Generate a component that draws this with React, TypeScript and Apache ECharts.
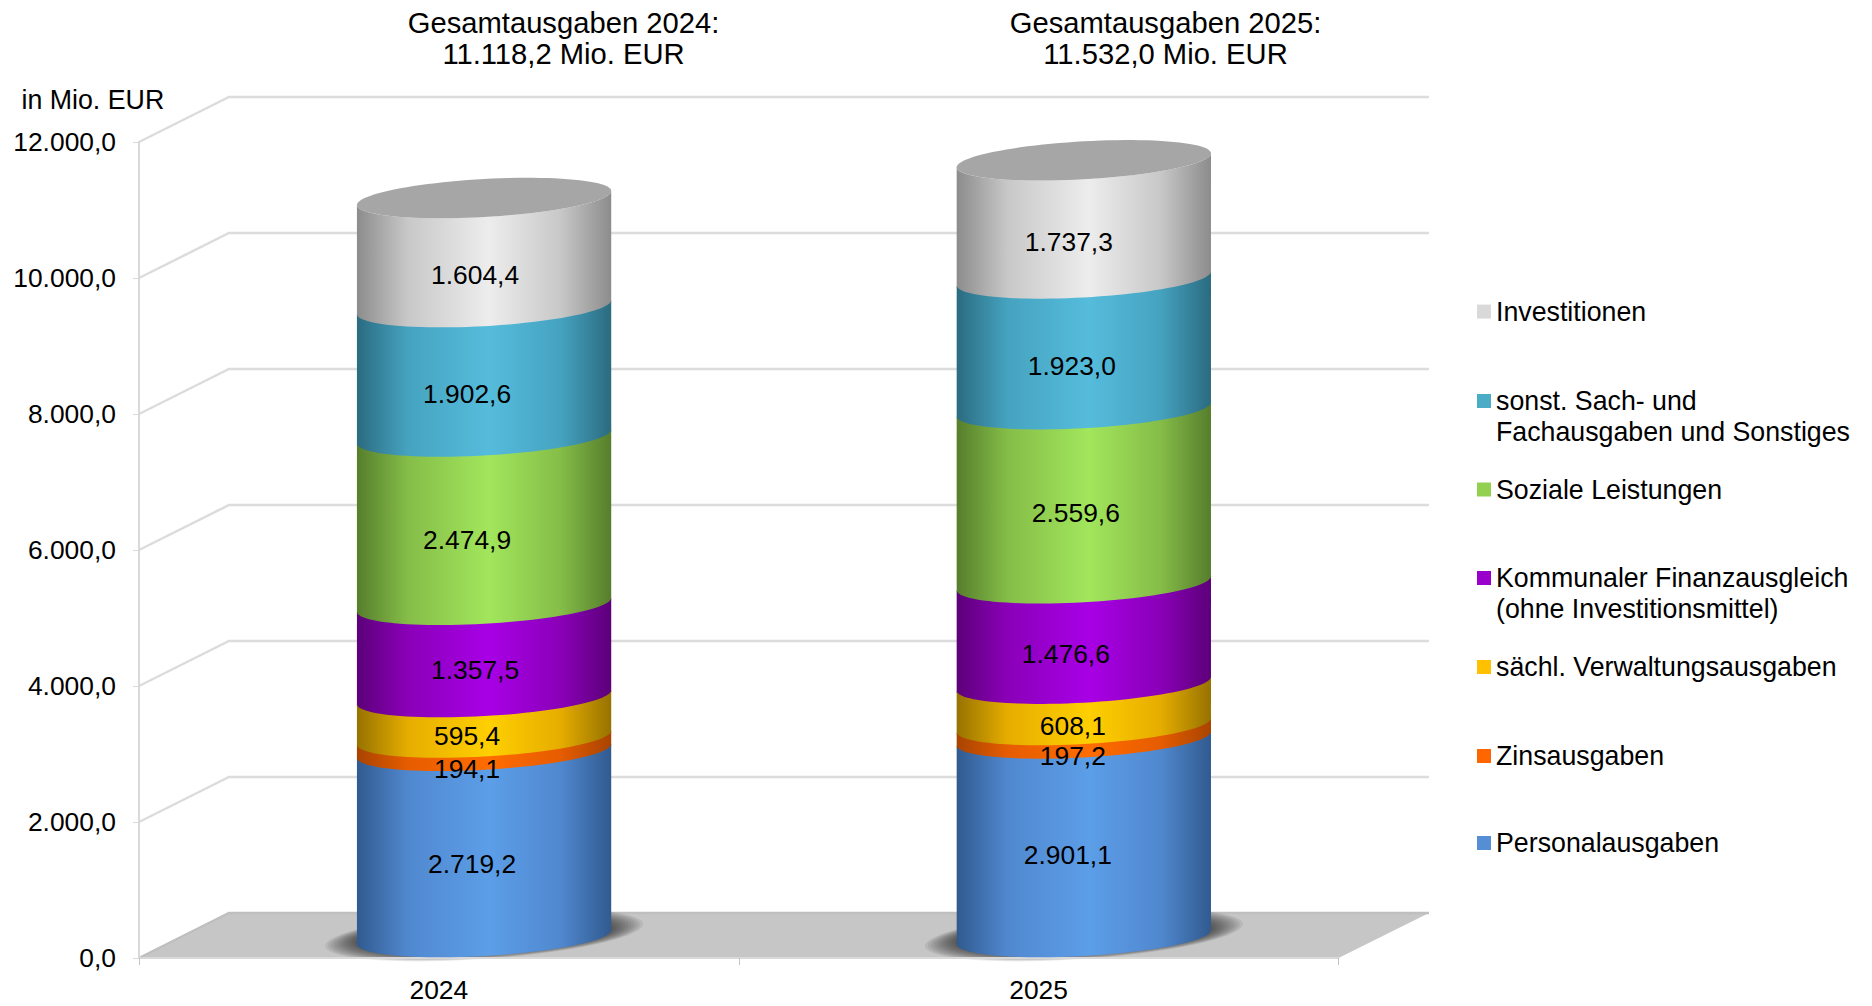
import React, { useEffect, useRef } from "react";
import * as echarts from "echarts";

const FONT = '"Liberation Sans", Arial, sans-serif';

const categories = ["2024", "2025"];
const yTicks = [0, 2000, 4000, 6000, 8000, 10000, 12000];

const personalausgaben = [2719.2, 2901.1];
const zinsausgaben = [194.1, 197.2];
const verwaltungsausgaben = [595.4, 608.1];
const finanzausgleich = [1357.5, 1476.6];
const sozialeLeistungen = [2474.9, 2559.6];
const sachausgaben = [1902.6, 1923.0];
const investitionen = [1604.4, 1737.3];

const titleLines = [
  "Gesamtausgaben 2024:\n11.118,2 Mio. EUR",
  "Gesamtausgaben 2025:\n11.532,0 Mio. EUR",
];
const unitLabel = "in Mio. EUR";

const names = [
  "Personalausgaben",
  "Zinsausgaben",
  "sächl. Verwaltungsausgaben",
  "Kommunaler Finanzausgleich\n(ohne Investitionsmittel)",
  "Soziale Leistungen",
  "sonst. Sach- und\nFachausgaben und Sonstiges",
  "Investitionen",
];
const values = [
  personalausgaben,
  zinsausgaben,
  verwaltungsausgaben,
  finanzausgleich,
  sozialeLeistungen,
  sachausgaben,
  investitionen,
];

// styling (dark edge, mid tone, highlight, legend swatch)
const shades = [
  ["#315a8f", "#5088cf", "#5c9ee8", "#558ed5"],
  ["#a84400", "#e65c00", "#ff6c00", "#ff6600"],
  ["#967200", "#e6ad00", "#ffcf00", "#ffc000"],
  ["#5c0079", "#8a00b8", "#a800e6", "#9900cc"],
  ["#567e2c", "#85bd48", "#a2e65c", "#92d050"],
  ["#2b6b80", "#45a3c0", "#56bcdc", "#4bacc6"],
  ["#8c8c8c", "#c8c8c8", "#ededed", "#d9d9d9"],
];
// small per-label nudges [dx from cylinder centre, dy], as placed in the source
const labelNudge = [
  [[-12, -2], [-17, 3], [-17, -4], [-9, -3], [-17, -3], [-17, 0], [-9, 0]],
  [[-16, -4], [-11, 2], [-11, -1], [-18, -2], [-8, -6], [-12, 0], [-15, 0]],
];

const DEPTH_X = 90;
const DEPTH_Y = 45;
const MID_X = 45.2;
const MID_Y = 22.3;
const BASE_Y = 21;
const TILT = 7;
const MINOR = 19;
const WIDTH_RATIO = 0.424;
const FS = 26.4;
const FS_WIDE = 26.75;
const FS_TITLE = 29.2;

const fmt = (v: number) =>
  v.toLocaleString("de-DE", { minimumFractionDigits: 1, maximumFractionDigits: 1 });

const curve = (cx: number, cy: number, a: number, from: number, to: number, n = 48) => {
  const pts: number[][] = [];
  for (let i = 0; i <= n; i++) {
    const t = from + ((to - from) * i) / n;
    pts.push([cx + a * Math.cos(t), cy + MINOR * Math.sin(t) - TILT * Math.cos(t)]);
  }
  return pts;
};

const bodyFill = (s: string[]) =>
  new echarts.graphic.LinearGradient(0, 0, 1, 0, [
    { offset: 0, color: s[0] },
    { offset: 0.2, color: s[1] },
    { offset: 0.52, color: s[2] },
    { offset: 0.8, color: s[1] },
    { offset: 1, color: s[0] },
  ]);

const renderBackdrop = (params: any, api: any) => {
  const cs = params.coordSys;
  const y = api.coord([0, api.value(0)])[1];
  const x0 = cs.x;
  const x1 = cs.x + cs.width;
  const children: any[] = [];
  if (api.value(0) === 0) {
    children.push({
      type: "polygon",
      shape: { points: [[x0, y], [x0 + DEPTH_X, y - DEPTH_Y], [x1 + DEPTH_X + 0.5, y - DEPTH_Y], [x1, y]] },
      style: { fill: "#c6c6c6" },
    });
  }
  children.push({
    type: "polyline",
    shape: { points: [[x0, y], [x0 + DEPTH_X, y - DEPTH_Y], [x1 + DEPTH_X + 0.5, y - DEPTH_Y]] },
    style: { stroke: api.value(0) === 0 ? "#bfbfbf" : "#dcdcdc", lineWidth: 2.5, fill: "none" },
  });
  return { type: "group", children };
};

const renderShadow = (params: any, api: any) => {
  const [cxFront, y0] = api.coord([api.value(0), 0]);
  const a = (api.size([1, 0])[0] * WIDTH_RATIO) / 2;
  const cx = cxFront + MID_X;
  const cy = y0 - BASE_Y - 2;
  const children: any[] = [];
  const layers = 11;
  for (let k = 0; k < layers; k++) {
    const f = k / (layers - 1);
    const rx = a + 32 - 30 * f;
    const ry = MINOR + 5 - 5 * f;
    const tilt = 11 - 4 * f;
    const pts: number[][] = [];
    for (let i = 0; i < 72; i++) {
      const t = (i / 72) * Math.PI * 2;
      pts.push([cx + rx * Math.cos(t), cy + ry * Math.sin(t) - tilt * Math.cos(t)]);
    }
    children.push({
      type: "polygon",
      shape: { points: pts },
      style: { fill: "#000", opacity: 0.065 },
    });
  }
  return { type: "group", children };
};

const makeRender = (si: number) => (params: any, api: any) => {
  const cat = api.value(0);
  const base = api.value(1);
  const top = api.value(2);
  const [cxFront, yBase] = api.coord([cat, base]);
  const yTop = api.coord([cat, top])[1];
  const a = (api.size([1, 0])[0] * WIDTH_RATIO) / 2;
  const cx = cxFront + MID_X;
  const cyTop = yTop - MID_Y;
  const cyBase = si === 0 ? yBase - BASE_Y : yBase - MID_Y + 1.5;
  const nudge = labelNudge[cat][si];
  const pts = curve(cx, cyTop, a, Math.PI, 0).concat(curve(cx, cyBase, a, 0, Math.PI));
  const children: any[] = [
    { type: "polygon", shape: { points: pts }, style: { fill: bodyFill(shades[si]) }, z2: 1 },
  ];
  if (si === names.length - 1) {
    const cap = curve(cx, cyTop, a, 0, Math.PI * 2, 96);
    children.push({ type: "polygon", shape: { points: cap }, style: { fill: "#a6a6a6" }, z2: 2 });
  }
  children.push({
    type: "text",
    x: cx + nudge[0],
    y: (yBase + yTop) / 2 + nudge[1],
    z2: 100,
    style: {
      text: fmt(top - base),
      align: "center",
      verticalAlign: "middle",
      font: `${FS}px ${FONT}`,
      fill: "#000",
    },
  });
  return { type: "group", children };
};

const legendRows = [843, 756, 667, 578, 489.5, 401, 311.6];

export default function App() {
  const ref = useRef<HTMLDivElement>(null);
  useEffect(() => {
    if (!ref.current) return;
    document.body.style.margin = "0";
    const chart = echarts.init(ref.current, undefined, { renderer: "svg" });
    const bodies: any[] = names.map((n, si) => {
      const data = categories.map((_, c) => {
        let base = 0;
        for (let k = 0; k < si; k++) base += values[k][c];
        return [c, +base.toFixed(1), +(base + values[si][c]).toFixed(1)];
      });
      return {
        type: "custom",
        name: n,
        z: 2,
        silent: true,
        encode: { x: 0, y: [1, 2] },
        data,
        renderItem: makeRender(si),
      };
    });
    const legendGraphics: any[] = [];
    names.forEach((n, i) => {
      legendGraphics.push({
        type: "rect",
        left: 1477,
        top: legendRows[i] - 7,
        shape: { width: 14, height: 14 },
        style: { fill: shades[i][3] },
      });
      legendGraphics.push({
        type: "text",
        left: 1496,
        top: legendRows[i] - 15.5,
        style: { text: n, font: `${FS_WIDE}px ${FONT}`, lineHeight: 31, fill: "#000" },
      });
    });
    legendGraphics.push({
      type: "text",
      left: 21.5,
      top: 84,
      style: { text: unitLabel, font: `${FS_WIDE}px ${FONT}`, lineHeight: 31, fill: "#000" },
    });
    chart.setOption({
      animation: false,
      backgroundColor: "#fff",
      textStyle: { fontFamily: FONT },
      title: titleLines.map((t, i) => ({
        text: t,
        left: i === 0 ? 558.5 : 1160.5,
        top: 2,
        textAlign: "center",
        textStyle: {
          fontFamily: FONT,
          fontSize: FS_TITLE,
          fontWeight: "normal",
          color: "#000",
          lineHeight: 31,
        },
      })),
      grid: { left: 139, right: 533.5, top: 142, bottom: 48, containLabel: false },
      xAxis: {
        type: "category",
        data: categories,
        z: 1,
        axisLine: { show: true, lineStyle: { color: "#d9d9d9", width: 2 } },
        axisTick: { show: true, length: 7, lineStyle: { color: "#c4c4c4", width: 1 } },
        axisLabel: { color: "#000", fontFamily: FONT, fontSize: FS, margin: 19 },
      },
      yAxis: {
        type: "value",
        min: 0,
        max: 12000,
        interval: 2000,
        z: 1,
        axisLine: { show: true, lineStyle: { color: "#d9d9d9", width: 2 } },
        axisTick: { show: true, length: 6, lineStyle: { color: "#d9d9d9", width: 1 } },
        splitLine: { show: false },
        axisLabel: {
          color: "#000",
          fontFamily: FONT,
          fontSize: FS,
          margin: 23,
          padding: [2, 0, 0, 0],
          formatter: (v: number) => fmt(v),
        },
      },
      series: [
        {
          type: "custom",
          name: "Raster",
          z: 0,
          silent: true,
          encode: { y: 0 },
          data: yTicks.map((t) => [t]),
          renderItem: renderBackdrop,
        },
        {
          type: "custom",
          name: "Schatten",
          z: 1,
          silent: true,
          encode: { x: 0 },
          data: categories.map((_, c) => [c]),
          renderItem: renderShadow,
        },
        ...bodies.slice().reverse(),
      ],
      graphic: legendGraphics,
    });
    return () => chart.dispose();
  }, []);
  return <div ref={ref} style={{ position: "fixed", left: 0, top: 0, width: 1872, height: 1006 }} />;
}
